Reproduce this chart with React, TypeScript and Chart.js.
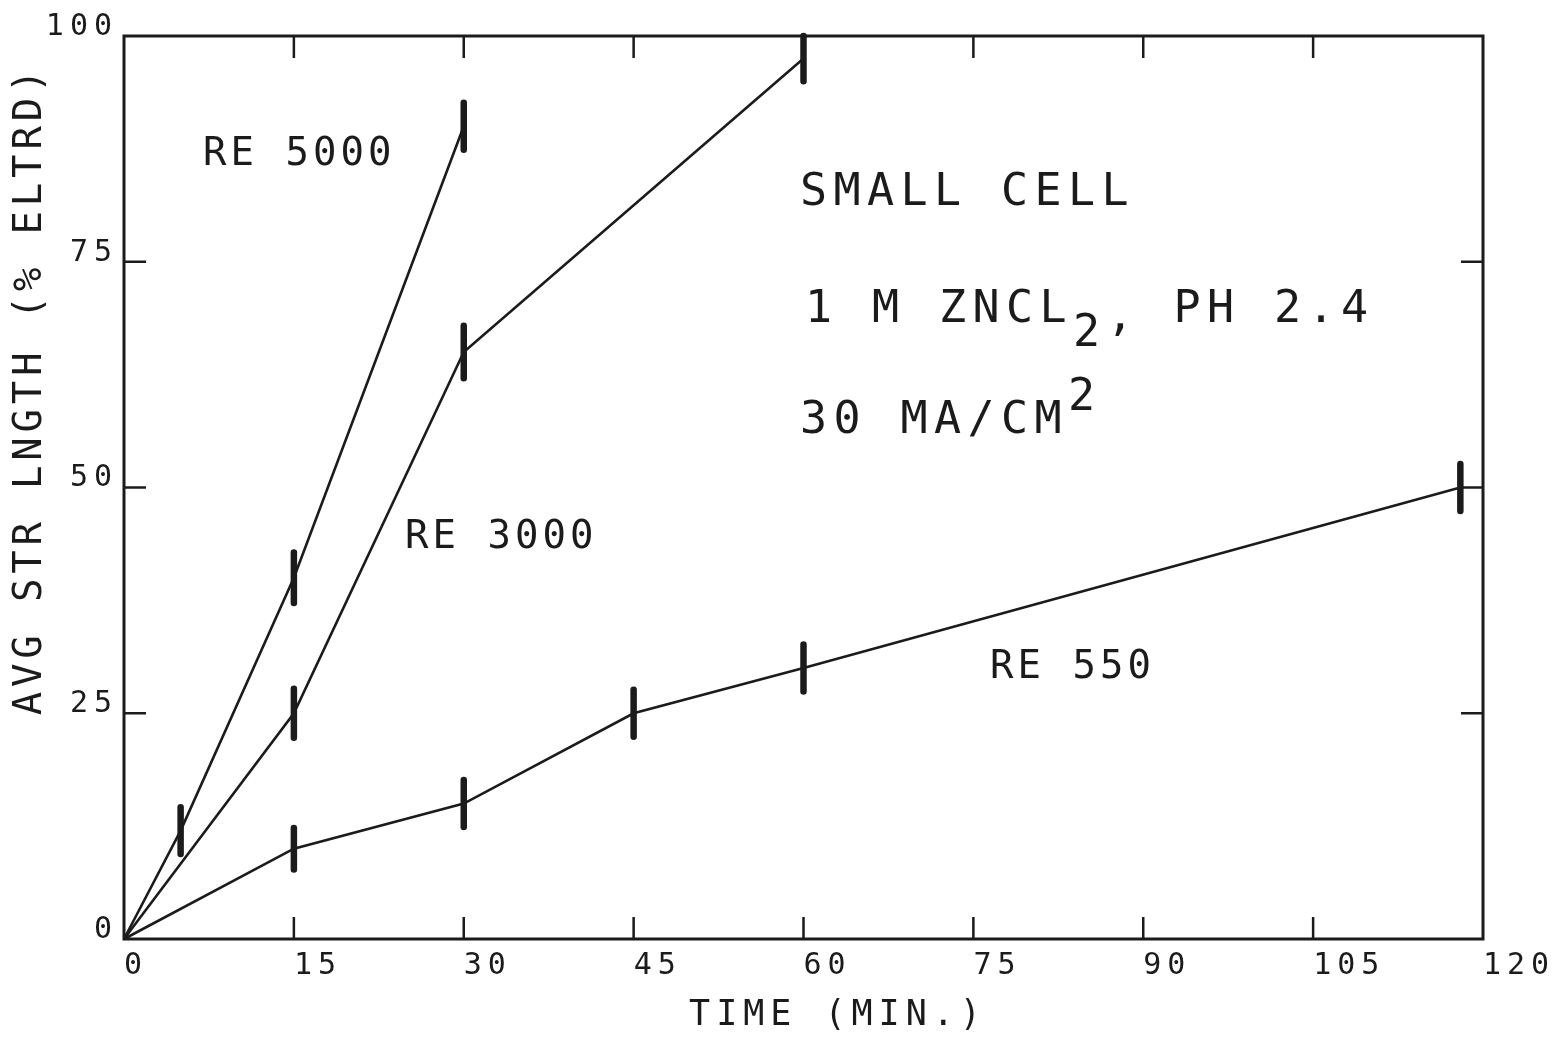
import React, { useEffect, useRef } from "react";
import { Chart, registerables } from "chart.js";

Chart.register(...registerables);

// ---- data ----
const timeRE5000 = [0, 5, 15, 30];
const lenRE5000 = [0, 12, 40, 90];
const errRE5000 = [0, 2.6, 2.8, 2.6];

const timeRE3000 = [0, 15, 30, 60];
const lenRE3000 = [0, 25, 65, 97.5];
const errRE3000 = [0, 2.7, 2.9, 2.5];

const timeRE550 = [0, 15, 30, 45, 60, 118];
const lenRE550 = [0, 10, 15, 25, 30, 50];
const errRE550 = [0, 2.3, 2.6, 2.6, 2.6, 2.6];

const seriesNames = ["RE 5000", "RE 3000", "RE 550"];
const xTickValues = [0, 15, 30, 45, 60, 75, 90, 105, 120];
const yTickValues = [0, 25, 50, 75, 100];
const xTitle = "TIME (MIN.)";
const yTitle = "AVG STR LNGTH (% ELTRD)";
const noteLine1 = "SMALL CELL";
const noteLine2a = "1 M ZNCL";
const noteLine2sub = "2";
const noteLine2b = ",";
const noteLine2c = " PH 2.4";
const noteLine3a = "30 MA/CM";
const noteLine3sup = "2";

const INK = "#1b1b1b";
const FONT = '"DejaVu Sans Mono", monospace';

function txt(ctx: CanvasRenderingContext2D, s: string, x: number, y: number, size: number, spacing: number) {
  ctx.font = `${size}px ${FONT}`;
  (ctx as any).letterSpacing = `${spacing}px`;
  ctx.textAlign = "left";
  ctx.textBaseline = "alphabetic";
  ctx.fillText(s, x, y);
  return ctx.measureText(s).width;
}

const errors = [errRE5000, errRE3000, errRE550];

const decorPlugin = {
  id: "decor",
  beforeDraw(chart: any) {
    const ctx = chart.ctx;
    ctx.save();
    ctx.fillStyle = "#ffffff";
    ctx.fillRect(0, 0, chart.width, chart.height);
    ctx.restore();
    (ctx as any).letterSpacing = "6px";
  },
  beforeDatasetsDraw(chart: any) {
    (chart.ctx as any).letterSpacing = "0px";
    const ctx = chart.ctx;
    const { left, right, top, bottom } = chart.chartArea;
    const xs = chart.scales.x;
    const ys = chart.scales.y;
    ctx.save();
    ctx.strokeStyle = INK;
    ctx.lineWidth = 3;
    ctx.strokeRect(left, top, right - left, bottom - top);
    ctx.lineWidth = 2.5;
    const tl = 22;
    ctx.beginPath();
    xTickValues.slice(1, -1).forEach((v) => {
      const px = xs.getPixelForValue(v);
      ctx.moveTo(px, bottom);
      ctx.lineTo(px, bottom - tl);
      ctx.moveTo(px, top);
      ctx.lineTo(px, top + tl);
    });
    yTickValues.slice(1, -1).forEach((v) => {
      const py = ys.getPixelForValue(v);
      ctx.moveTo(left, py);
      ctx.lineTo(left + tl, py);
      ctx.moveTo(right, py);
      ctx.lineTo(right - tl, py);
    });
    ctx.stroke();
    ctx.restore();
  },
  afterDatasetsDraw(chart: any) {
    const ctx = chart.ctx;
    const xs = chart.scales.x;
    const ys = chart.scales.y;
    ctx.save();
    ctx.strokeStyle = INK;
    ctx.lineWidth = 6.5;
    ctx.lineCap = "round";
    chart.data.datasets.forEach((ds: any, i: number) => {
      ds.data.forEach((p: any, j: number) => {
        const e = errors[i][j];
        if (!e) return;
        const px = xs.getPixelForValue(p.x);
        ctx.beginPath();
        ctx.moveTo(px, ys.getPixelForValue(p.y + e));
        ctx.lineTo(px, ys.getPixelForValue(p.y - e));
        ctx.stroke();
      });
    });
    ctx.restore();
  },
  afterDraw(chart: any) {
    const ctx = chart.ctx;
    ctx.save();
    ctx.fillStyle = INK;
    // series labels
    txt(ctx, seriesNames[0], 203, 165, 39, 4);
    txt(ctx, seriesNames[1], 405, 548, 39, 4);
    txt(ctx, seriesNames[2], 990, 678, 39, 4);
    // notes
    txt(ctx, noteLine1, 800, 205, 45, 6.4);
    let x = 805;
    x += txt(ctx, noteLine2a, x, 322, 45, 6.4);
    x += txt(ctx, noteLine2sub, x, 346, 45, 6.4);
    x += txt(ctx, noteLine2b, x, 330, 45, 6.4);
    txt(ctx, noteLine2c, x, 322, 45, 6.4);
    let x3 = 800;
    x3 += txt(ctx, noteLine3a, x3, 433, 45, 6.4);
    txt(ctx, noteLine3sup, x3, 410, 45, 6.4);
    // axis titles
    ctx.font = `35px ${FONT}`;
    (ctx as any).letterSpacing = "6px";
    ctx.textAlign = "center";
    ctx.textBaseline = "middle";
    ctx.fillText(xTitle, 838, 1016);
    ctx.translate(31, 390);
    ctx.rotate(-Math.PI / 2);
    ctx.font = `39px ${FONT}`;
    (ctx as any).letterSpacing = "4.8px";
    ctx.fillText(yTitle, 0, 0);
    ctx.restore();
    (ctx as any).letterSpacing = "0px";
  },
};

function pts(xs: number[], ys: number[]) {
  return xs.map((x, i) => ({ x, y: ys[i] }));
}

export default function App() {
  const ref = useRef<HTMLCanvasElement | null>(null);
  useEffect(() => {
    if (!ref.current) return;
    const lineDs = (label: string, data: any) => ({
      label,
      data,
      showLine: true,
      borderColor: INK,
      backgroundColor: INK,
      borderWidth: 2.6,
      pointRadius: 0,
      tension: 0,
      clip: false as any,
    });
    const chart = new Chart(ref.current, {
      type: "scatter",
      data: {
        datasets: [
          lineDs(seriesNames[0], pts(timeRE5000, lenRE5000)),
          lineDs(seriesNames[1], pts(timeRE3000, lenRE3000)),
          lineDs(seriesNames[2], pts(timeRE550, lenRE550)),
        ],
      },
      options: {
        animation: false,
        responsive: true,
        maintainAspectRatio: false,
        layout: { padding: { left: 0, top: 36, right: 77, bottom: 0 } },
        plugins: { legend: { display: false }, tooltip: { enabled: false } },
        scales: {
          x: {
            type: "linear",
            min: 0,
            max: 120,
            afterBuildTicks: (s: any) => {
              s.ticks = xTickValues.map((v) => ({ value: v }));
            },
            afterFit: (s: any) => {
              s.height = 100;
            },
            grid: { display: false, drawTicks: false },
            border: { display: false },
            ticks: {
              autoSkip: false,
              maxRotation: 0,
              align: "start",
              padding: 9,
              color: INK,
              font: { family: FONT, size: 30 },
            },
          },
          y: {
            type: "linear",
            min: 0,
            max: 100,
            afterBuildTicks: (s: any) => {
              s.ticks = yTickValues.map((v) => ({ value: v }));
            },
            afterFit: (s: any) => {
              s.width = 124;
            },
            grid: { display: false, drawTicks: false },
            border: { display: false },
            ticks: {
              padding: 6,
              labelOffset: -9,
              color: INK,
              font: { family: FONT, size: 30 },
            },
          },
        },
      },
      plugins: [decorPlugin],
    });
    return () => chart.destroy();
  }, []);
  return (
    <div style={{ position: "fixed", left: 0, top: 0, width: 1560, height: 1039, background: "#fff" }}>
      <canvas ref={ref} />
    </div>
  );
}
